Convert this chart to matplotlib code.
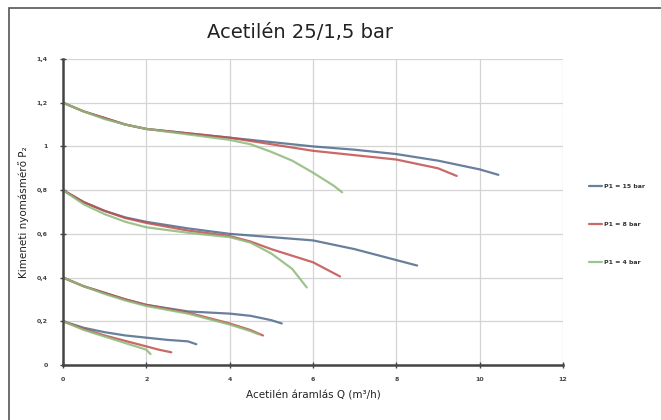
import matplotlib
matplotlib.use('Agg')
import matplotlib.pyplot as plt
from matplotlib.patches import Rectangle
from matplotlib.ticker import FuncFormatter

# 数据：四组出口压力曲线（起点 1,2 / 0,8 / 0,4 / 0,2），每组三条 P1
labels = ['P1 = 15 bar', 'P1 = 8 bar', 'P1 = 4 bar']
colors = ['#4f6a8c', '#c0504d', '#8dba7a']

# P1 = 15 bar
q15_a = [0, 0.5, 1, 1.5, 2, 3, 4, 5, 6, 7, 8, 9, 10, 10.45]
p15_a = [1.2, 1.16, 1.13, 1.1, 1.08, 1.06, 1.04, 1.02, 1.0, 0.985, 0.965, 0.935, 0.895, 0.87]
q15_b = [0, 0.5, 1, 1.5, 2, 3, 4, 5, 6, 7, 8, 8.5]
p15_b = [0.8, 0.745, 0.705, 0.675, 0.655, 0.625, 0.6, 0.585, 0.57, 0.53, 0.48, 0.455]
q15_c = [0, 0.5, 1, 1.5, 2, 3, 4, 4.5, 5, 5.25]
p15_c = [0.4, 0.36, 0.33, 0.3, 0.275, 0.245, 0.235, 0.225, 0.205, 0.19]
q15_d = [0, 0.5, 1, 1.5, 2, 2.5, 3, 3.2]
p15_d = [0.2, 0.17, 0.15, 0.135, 0.125, 0.115, 0.108, 0.095]

# P1 = 8 bar
q8_a = [0, 0.5, 1, 1.5, 2, 3, 4, 5, 6, 7, 8, 9, 9.45]
p8_a = [1.2, 1.16, 1.13, 1.1, 1.08, 1.06, 1.04, 1.01, 0.98, 0.96, 0.94, 0.9, 0.865]
q8_b = [0, 0.5, 1, 1.5, 2, 3, 4, 4.5, 5, 5.5, 6, 6.65]
p8_b = [0.8, 0.745, 0.705, 0.672, 0.65, 0.615, 0.59, 0.565, 0.53, 0.5, 0.47, 0.405]
q8_c = [0, 0.5, 1, 1.5, 2, 3, 4, 4.5, 4.8]
p8_c = [0.4, 0.36, 0.33, 0.3, 0.275, 0.24, 0.19, 0.16, 0.135]
q8_d = [0, 0.5, 1, 1.5, 2, 2.3, 2.6]
p8_d = [0.2, 0.165, 0.135, 0.11, 0.085, 0.07, 0.058]

# P1 = 4 bar
q4_a = [0, 0.5, 1, 1.5, 2, 3, 4, 4.5, 5, 5.5, 6, 6.5, 6.7]
p4_a = [1.2, 1.16, 1.125, 1.1, 1.08, 1.055, 1.03, 1.01, 0.975, 0.935, 0.88, 0.82, 0.79]
q4_b = [0, 0.5, 1, 1.5, 2, 3, 4, 4.5, 5, 5.5, 5.85]
p4_b = [0.8, 0.735, 0.69, 0.655, 0.63, 0.605, 0.585, 0.56, 0.51, 0.44, 0.355]
q4_c = [0, 0.5, 1, 1.5, 2, 3, 4, 4.5, 4.7]
p4_c = [0.4, 0.36, 0.325, 0.295, 0.27, 0.235, 0.185, 0.155, 0.14]
q4_d = [0, 0.5, 1, 1.5, 2, 2.1]
p4_d = [0.2, 0.16, 0.13, 0.1, 0.07, 0.05]

series = [
    [(q15_a, p15_a), (q15_b, p15_b), (q15_c, p15_c), (q15_d, p15_d)],
    [(q8_a, p8_a), (q8_b, p8_b), (q8_c, p8_c), (q8_d, p8_d)],
    [(q4_a, p4_a), (q4_b, p4_b), (q4_c, p4_c), (q4_d, p4_d)],
]

x_ticks = [0, 2, 4, 6, 8, 10, 12]
y_ticks = [0, 0.2, 0.4, 0.6, 0.8, 1.0, 1.2, 1.4]

fig = plt.figure(figsize=(6.61, 4.20), dpi=100)
ax = fig.add_axes([0.0953, 0.131, 0.7564, 0.7285])

# 外框
fig.patches.append(Rectangle((9 / 661, -0.1), 1.2, 1 - 8 / 420 + 0.1,
                             transform=fig.transFigure, fill=False,
                             edgecolor='#555555', linewidth=1.2))

handles = []
for idx, group in enumerate(series):
    for k, (q, p) in enumerate(group):
        ln, = ax.plot(q, p, color=colors[idx], linewidth=1.6, alpha=0.85,
                      solid_capstyle='round')
        if k == 0:
            handles.append(ln)

ax.set_xlim(0, 12)
ax.set_ylim(0, 1.4)
ax.set_xticks(x_ticks)
ax.set_yticks(y_ticks)

def comma_fmt(v, pos):
    s = f'{v:g}'
    return s.replace('.', ',')

ax.xaxis.set_major_formatter(FuncFormatter(comma_fmt))
ax.yaxis.set_major_formatter(FuncFormatter(comma_fmt))
ax.tick_params(axis='both', labelsize=4.5, direction='inout', length=4,
               width=1, colors='#444444')
ax.tick_params(axis='y', pad=9)
ax.tick_params(axis='x', pad=7)
for lab in ax.get_xticklabels() + ax.get_yticklabels():
    lab.set_fontweight('bold')

ax.grid(True, color='#d4d4d4', linewidth=0.9)
ax.set_axisbelow(True)
for side in ['top', 'right']:
    ax.spines[side].set_visible(False)
for side in ['left', 'bottom']:
    ax.spines[side].set_color('#444444')
    ax.spines[side].set_linewidth(1.8)

ax.set_xlabel('Acetilén áramlás Q (m³/h)', fontsize=7.5, color='#222222')
ax.set_ylabel('Kimeneti nyomásmérő P₂', fontsize=7.5, color='#222222')
ax.yaxis.set_label_coords(-0.068, 0.5)
ax.xaxis.set_label_coords(0.5, -0.085)

fig.text(300 / 661, 1 - 33 / 420, 'Acetilén 25/1,5 bar', ha='center', va='center',
         fontsize=14, color='#222222')

leg = fig.legend(handles, labels, loc='upper left',
                 bbox_to_anchor=(583 / 661, 1 - 178 / 420), frameon=False,
                 fontsize=4.5, handlelength=2.2, handletextpad=0.3,
                 labelspacing=5.2)
for t in leg.get_texts():
    t.set_fontweight('bold')
    t.set_color('#333333')

plt.savefig('out.png', dpi=100)
plt.close()
